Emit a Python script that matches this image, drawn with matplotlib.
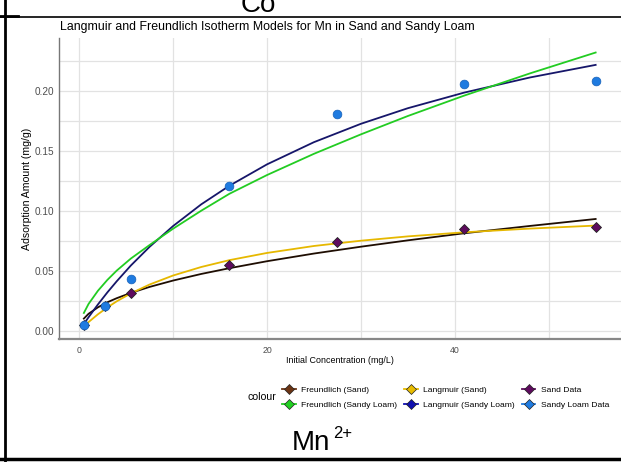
import matplotlib
matplotlib.use("Agg")
import matplotlib.pyplot as plt
from matplotlib.lines import Line2D

plt.rcParams['font.family'] = ['Liberation Sans', 'DejaVu Sans']

# measured data
conc = [0.5, 2.7, 5.5, 16, 27.5, 41, 55]
sand_q = [0.005, 0.021, 0.032, 0.0547, 0.0742, 0.0847, 0.0864]
loam_q = [0.005, 0.021, 0.0435, 0.121, 0.181, 0.2058, 0.2086]

# model curves
curve_x = [0.5, 1, 2, 3, 4, 5.5, 7.5, 10, 13, 16, 20, 25, 30, 35, 41, 48, 55]
freund_sand = [0.0103, 0.0143, 0.0197, 0.0239, 0.0273, 0.0317, 0.0367, 0.0420, 0.0475,
               0.0523, 0.0581, 0.0645, 0.0702, 0.0755, 0.0814, 0.0875, 0.0933]
freund_loam = [0.0150, 0.0225, 0.0335, 0.0425, 0.0503, 0.0603, 0.0716, 0.0852, 0.1002,
               0.1143, 0.1299, 0.1476, 0.1638, 0.1791, 0.1961, 0.2146, 0.2320]
lang_sand = [0.0039, 0.0074, 0.0139, 0.0196, 0.0247, 0.0313, 0.0387, 0.0462, 0.0533,
             0.0590, 0.0650, 0.0708, 0.0752, 0.0788, 0.0822, 0.0853, 0.0878]
lang_loam = [0.0058, 0.0114, 0.0221, 0.0321, 0.0414, 0.0545, 0.0701, 0.0874, 0.1055,
             0.1210, 0.1388, 0.1573, 0.1726, 0.1856, 0.1986, 0.2112, 0.2217]

labels = ['Freundlich (Sand)', 'Freundlich (Sandy Loam)', 'Langmuir (Sand)',
          'Langmuir (Sandy Loam)', 'Sand Data', 'Sandy Loam Data']
key_colors = ['#6b3414', '#22d022', '#e8bc00', '#1010b0', '#5e0b5e', '#1f7be0']

fig = plt.figure(figsize=(6.21, 4.62), dpi=100)
ax = fig.add_axes([58.5 / 621, 1 - 339 / 462, 1 - 58.5 / 621, 301 / 462])

ax.plot(curve_x, freund_sand, color='#1e0d02', lw=1.3)
ax.plot(curve_x, lang_sand, color='#e6b800', lw=1.3)
ax.plot(curve_x, lang_loam, color='#16166a', lw=1.3)
ax.plot(curve_x, freund_loam, color='#22cc22', lw=1.3)
ax.plot(conc, sand_q, 'D', color='#5e0b5e', mec='#222222', mew=0.6, ms=5.2, ls='none')
ax.plot(conc, loam_q, 'o', color='#1f7be0', mec='#1560b8', mew=0.5, ms=6.3, ls='none')

ax.set_xlim(-2.2, 57.7)
ax.set_ylim(-0.0067, 0.2441)
ax.set_xticks([0, 20, 40])
ax.set_xticks([10, 30, 50], minor=True)
ax.set_yticks([0, 0.05, 0.10, 0.15, 0.20])
ax.set_yticklabels(['0.00', '0.05', '0.10', '0.15', '0.20'])
ax.set_yticks([0.025, 0.075, 0.125, 0.175, 0.225], minor=True)
ax.grid(True, which='both', color='#e2e2e2', lw=0.9)
ax.set_axisbelow(True)
ax.tick_params(which='both', length=0, labelcolor='#4d4d4d')
ax.tick_params(axis='x', labelsize=6.3, pad=5)
ax.tick_params(axis='y', labelsize=7.2, pad=3)
for s in ['top', 'right']:
    ax.spines[s].set_visible(False)
ax.spines['left'].set_color('#777777')
ax.spines['left'].set_linewidth(1.0)
ax.spines['bottom'].set_color('#888888')
ax.spines['bottom'].set_linewidth(1.6)

ax.set_xlabel('Initial Concentration (mg/L)', fontsize=6.4, labelpad=1)
ax.set_ylabel('Adsorption Amount (mg/g)', fontsize=7.6, labelpad=2)
fig.text(60 / 621, 1 - 27 / 462, 'Langmuir and Freundlich Isotherm Models for Mn in Sand and Sandy Loam',
         fontsize=8.95, va='center', ha='left')

handles = [Line2D([], [], color=c, lw=1.3, marker='D', ms=5, mfc=c, mec='#222222', mew=0.5)
           for c in key_colors]
fig.legend(handles, labels, ncol=3, loc='center left', bbox_to_anchor=(278 / 621, 1 - 397.5 / 462),
           frameon=False, fontsize=6.1, handlelength=1.6, handletextpad=0.65,
           columnspacing=0.8, labelspacing=0.8, borderpad=0)
fig.text(247 / 621, 1 - 397 / 462, 'colour', fontsize=7.6, va='center', ha='left')

# surrounding page elements
fig.text(258 / 621, 1 - 12 / 462, 'Co', fontsize=20, ha='center', va='baseline')
fig.text(292 / 621, 1 - 450 / 462, 'Mn', fontsize=20, ha='left', va='baseline')
fig.text(333 / 621, 1 - 438 / 462, '2+', fontsize=12, ha='left', va='baseline')
fig.add_artist(Line2D([5 / 621, 5 / 621], [0, 1], color='black', lw=2))
fig.add_artist(Line2D([0, 1], [1 - 17 / 462, 1 - 17 / 462], color='black', lw=1.2))
fig.add_artist(Line2D([0, 18 / 621], [1 - 16 / 462, 1 - 16 / 462], color='black', lw=2))
fig.add_artist(Line2D([0, 1], [1 - 459 / 462, 1 - 459 / 462], color='black', lw=2.5))

fig.savefig('out.png', dpi=100)
